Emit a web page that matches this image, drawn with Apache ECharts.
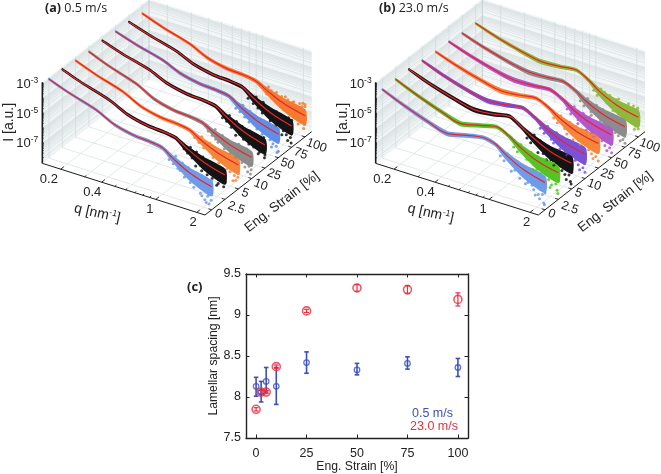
<!DOCTYPE html>
<html><head><meta charset="utf-8">
<style>html,body{margin:0;padding:0;background:#fff}#c{width:661px;height:474px}</style>
<script src="https://cdn.jsdelivr.net/npm/echarts@6/dist/echarts.min.js"></script>
</head><body><div id="c"></div>
<script>
// ---------- data ----------
const qValues = [0.1465,0.208,0.326,0.441,0.614,0.807,1.0,1.18,1.6,2.3];
const strainLabels = ['0','2.5','5','10','25','50','75','100'];
const qTickLabels = [0.2,0.4,1,2];
const qGridValues = [0.2,0.3,0.4,0.5,0.6,0.7,0.8,0.9,1,2];
const decadeLabels = [-3,-5,-7];

const curvesA = [
 [-3.0,-3.52,-4.07,-4.66,-4.98,-5.06,-5.20,-5.66,-6.33,-6.78],
 [-3.05,-3.56,-4.11,-4.69,-5.01,-5.09,-5.23,-5.65,-6.27,-6.69],
 [-3.16,-3.68,-4.24,-4.84,-5.16,-5.24,-5.38,-5.76,-6.32,-6.71],
 [-3.26,-3.82,-4.41,-5.05,-5.39,-5.48,-5.62,-5.98,-6.53,-6.90],
 [-3.22,-3.69,-4.18,-4.71,-5.0,-5.07,-5.20,-5.66,-6.32,-6.77],
 [-3.30,-3.75,-4.23,-4.75,-5.03,-5.10,-5.23,-5.66,-6.30,-6.73],
 [-3.36,-3.82,-4.31,-4.83,-5.12,-5.19,-5.32,-5.78,-6.44,-6.89],
 [-3.49,-3.99,-4.52,-5.09,-5.40,-5.47,-5.61,-5.97,-6.53,-6.90]];
const curvesB = [
 [-3.70,-4.29,-4.94,-5.28,-4.98,-4.78,-4.97,-5.44,-6.08,-6.50],
 [-3.72,-4.31,-4.96,-5.31,-5.01,-4.76,-5.12,-5.58,-6.18,-6.53],
 [-3.75,-4.28,-4.80,-5.07,-4.96,-4.76,-5.26,-5.67,-6.26,-6.60],
 [-3.87,-4.40,-4.93,-5.16,-5.04,-4.89,-5.33,-5.77,-6.33,-6.68],
 [-3.96,-4.45,-4.95,-5.20,-5.09,-4.95,-5.33,-5.77,-6.33,-6.66],
 [-3.99,-4.47,-4.96,-5.18,-5.14,-5.05,-5.43,-5.89,-6.44,-6.80],
 [-4.13,-4.60,-5.08,-5.31,-5.29,-5.21,-5.58,-6.04,-6.60,-6.94],
 [-4.16,-4.63,-5.10,-5.33,-5.26,-5.15,-5.58,-6.07,-6.66,-7.01]];
const coloursA = ['#6f9ce8','#141414','#f5863a','#8c8c8c','#141414','#5f8fe6','#141414','#f57a30'];
const coloursB = ['#6f9ce8','#55c524','#141414','#7a52d8','#f5863a','#b058cc','#8c8c8c','#8fb83c'];
const spreadUpA = [.03,.04,.05,.06,.07,.07,.08,.14,.30,.36];
const spreadDownA = [.03,.04,.05,.06,.07,.08,.10,.22,.48,.60];
const spreadUpB = [.03,.07,.09,.11,.09,.08,.08,.16,.32,.40];
const spreadDownB = [.03,.07,.10,.13,.11,.09,.11,.26,.52,.66];

const scatterA = [
 [[1.35,-6.35],[1.45,-6.7],[1.6,-6.95],[1.7,-7.2],[1.8,-6.35],[1.9,-7.45],[2.0,-7.1],[2.05,-7.8],[2.1,-6.4],[2.15,-7.5],[2.2,-8.0],[2.25,-7.3],[2.28,-7.7],[1.95,-7.6],[2.1,-7.95],
  [1.12,-5.85],[1.2,-6.05],[1.3,-6.25],[1.25,-5.5],[1.4,-5.8],[1.5,-6.6],[1.55,-6.0],[1.7,-6.85],[1.75,-6.15],[1.85,-6.95],[1.95,-6.25],[2.1,-7.05],[2.3,-6.35],[2.2,-7.35]],
 [[1.4,-6.7],[1.55,-6.9],[1.7,-7.05],[1.85,-7.2],[1.95,-6.4],[2.05,-7.4],[2.12,-7.1],[2.2,-6.3],[2.25,-7.5],[2.3,-7.2],[2.0,-7.55],[2.27,-6.5],
  [1.15,-5.8],[1.22,-6.0],[1.32,-6.22],[1.28,-5.55],[1.42,-5.75],[1.52,-6.55],[1.58,-5.95],[1.72,-6.8],[1.78,-6.1],[1.9,-6.95],[2.15,-6.95],[2.24,-7.0]],
 [[1.3,-6.0],[1.5,-6.75],[1.65,-7.0],[1.8,-6.2],[1.9,-7.2],[2.0,-7.35],[2.08,-6.3],[2.15,-7.5],[2.2,-7.8],[2.25,-6.35],[2.3,-7.3],[2.1,-7.9],[2.28,-7.55],
  [1.1,-5.8],[1.18,-6.05],[1.28,-6.3],[1.24,-5.6],[1.42,-5.85],[1.55,-6.05],[1.6,-6.7],[1.72,-6.85],[1.85,-7.0],[1.98,-6.25],[2.12,-7.1],[2.22,-7.15]],
 [[1.3,-6.6],[1.45,-6.9],[1.6,-7.1],[1.75,-7.25],[1.85,-6.3],[1.95,-7.45],[2.05,-7.7],[2.12,-6.45],[2.2,-7.55],[2.25,-8.05],[2.3,-7.4],[2.15,-7.95],[2.28,-7.75],
  [1.1,-6.05],[1.18,-6.25],[1.25,-6.45],[1.24,-5.8],[1.4,-6.05],[1.52,-6.2],[1.55,-6.85],[1.7,-7.0],[1.82,-7.1],[2.0,-6.5],[2.1,-7.25],[2.22,-7.25]],
 [[1.4,-6.75],[1.6,-6.85],[1.75,-7.05],[1.9,-7.15],[2.0,-6.35],[2.1,-7.35],[2.2,-7.2],[2.25,-6.3],[2.3,-7.45],[2.05,-7.5],[2.28,-7.65],
  [1.12,-5.85],[1.2,-6.0],[1.3,-6.3],[1.26,-5.55],[1.42,-5.8],[1.5,-6.6],[1.56,-6.0],[1.7,-6.8],[1.78,-6.15],[1.95,-7.0],[2.15,-6.95],[2.24,-7.05]],
 [[1.4,-6.55],[1.6,-6.85],[1.75,-7.1],[1.9,-6.2],[2.0,-7.3],[2.1,-7.5],[2.15,-6.3],[2.22,-7.6],[2.28,-7.3],[2.3,-7.9],[2.05,-7.75],[2.25,-8.0],
  [1.12,-5.9],[1.2,-6.05],[1.3,-6.3],[1.26,-5.55],[1.42,-5.8],[1.55,-6.0],[1.62,-6.7],[1.78,-6.15],[1.85,-6.9],[1.98,-7.05],[2.12,-7.1],[2.3,-6.4]],
 [[1.4,-6.65],[1.6,-7.0],[1.75,-7.2],[1.9,-6.35],[2.0,-7.4],[2.1,-7.6],[2.18,-6.4],[2.25,-7.7],[2.3,-7.35],[2.15,-7.95],[2.28,-8.05],[1.95,-7.7],
  [1.1,-5.95],[1.2,-6.2],[1.3,-6.4],[1.26,-5.7],[1.42,-5.9],[1.55,-6.15],[1.62,-6.85],[1.78,-6.25],[1.85,-7.0],[2.05,-7.1],[2.2,-7.2],[2.3,-6.5]],
 [[1.3,-5.95],[1.5,-6.75],[1.65,-6.05],[1.8,-7.0],[1.9,-6.2],[2.0,-7.2],[2.1,-6.2],[2.15,-7.35],[2.22,-6.1],[2.28,-7.5],[2.3,-6.3],[2.25,-7.8],[2.05,-7.6],
  [1.1,-5.8],[1.2,-6.25],[1.24,-5.75],[1.32,-6.45],[1.42,-5.95],[1.55,-6.1],[1.6,-6.95],[1.72,-6.2],[1.85,-6.3],[1.95,-7.05],[2.18,-6.35],[2.3,-6.15]]];
const scatterB = [
 [[1.3,-6.45],[1.5,-6.75],[1.65,-7.0],[1.8,-6.2],[1.9,-7.2],[2.0,-6.0],[2.05,-7.45],[2.1,-7.7],[2.15,-6.1],[2.2,-7.35],[2.25,-7.9],[2.3,-7.2],[1.95,-7.55],[2.28,-8.0],
  [1.08,-5.65],[1.15,-5.9],[1.22,-5.35],[1.3,-5.6],[1.38,-6.3],[1.45,-5.7],[1.6,-5.85],[1.72,-6.85],[1.85,-6.95],[1.98,-6.05],[2.12,-7.05],[2.24,-6.95]],
 [[1.3,-5.9],[1.5,-6.85],[1.7,-7.0],[1.85,-5.95],[1.95,-7.2],[2.05,-7.5],[2.12,-6.0],[2.2,-7.35],[2.25,-7.75],[2.3,-7.1],[2.28,-7.95],[2.0,-7.7],
  [1.08,-5.75],[1.15,-6.0],[1.22,-5.45],[1.35,-6.3],[1.45,-5.75],[1.6,-6.75],[1.62,-5.9],[1.78,-6.0],[1.9,-6.9],[2.1,-7.0],[2.25,-6.2]],
 [[1.3,-6.6],[1.5,-6.9],[1.7,-7.1],[1.85,-6.1],[1.95,-7.3],[2.05,-7.5],[2.15,-6.2],[2.2,-7.45],[2.25,-7.85],[2.3,-7.2],[2.1,-7.8],[2.28,-8.0],
  [1.08,-5.85],[1.15,-6.1],[1.22,-5.5],[1.35,-5.75],[1.42,-6.55],[1.55,-5.95],[1.62,-6.8],[1.78,-6.05],[1.9,-7.0],[2.1,-7.05],[2.25,-6.25]],
 [[1.35,-6.6],[1.5,-6.9],[1.7,-7.15],[1.85,-6.15],[1.95,-7.3],[2.05,-7.55],[2.15,-6.25],[2.22,-7.65],[2.28,-7.35],[2.3,-7.9],[2.1,-7.85],
  [1.08,-5.9],[1.15,-6.15],[1.22,-5.6],[1.3,-6.4],[1.42,-5.85],[1.58,-6.0],[1.65,-6.9],[1.78,-6.1],[1.9,-7.0],[2.1,-7.1],[2.25,-6.3]],
 [[1.35,-6.7],[1.5,-6.95],[1.7,-7.15],[1.85,-6.15],[1.95,-7.3],[2.05,-7.5],[2.12,-6.2],[2.2,-7.6],[2.28,-7.3],[2.3,-7.85],[2.1,-7.8],
  [1.08,-5.9],[1.15,-6.15],[1.22,-5.6],[1.3,-6.4],[1.42,-5.85],[1.58,-6.0],[1.65,-6.9],[1.78,-6.1],[1.9,-7.0],[2.1,-7.1],[2.25,-6.3]],
 [[1.3,-6.75],[1.5,-7.0],[1.7,-7.25],[1.85,-6.3],[1.95,-7.4],[2.05,-7.65],[2.15,-6.35],[2.22,-7.7],[2.28,-7.45],[2.3,-8.0],[2.12,-7.95],
  [1.08,-6.0],[1.15,-6.25],[1.22,-5.7],[1.3,-6.5],[1.42,-5.95],[1.58,-6.1],[1.65,-7.05],[1.78,-6.25],[1.9,-7.15],[2.1,-7.25],[2.25,-6.45]],
 [[1.3,-6.9],[1.5,-7.15],[1.7,-7.35],[1.85,-6.4],[1.95,-7.55],[2.05,-7.7],[2.15,-6.5],[2.22,-7.85],[2.28,-7.6],[2.3,-8.05],[2.12,-8.0],
  [1.08,-6.15],[1.15,-6.4],[1.22,-5.85],[1.3,-6.65],[1.42,-6.1],[1.58,-6.25],[1.65,-7.2],[1.78,-6.4],[1.9,-7.3],[2.1,-7.4],[2.25,-6.6]],
 [[1.3,-6.05],[1.5,-7.1],[1.65,-6.2],[1.8,-7.3],[1.95,-6.3],[2.05,-7.5],[2.12,-6.35],[2.2,-7.65],[2.28,-6.4],[2.3,-7.8],[2.15,-7.9],
  [1.08,-6.15],[1.15,-6.4],[1.22,-5.9],[1.35,-6.7],[1.42,-6.15],[1.58,-6.3],[1.65,-7.2],[1.78,-6.45],[1.9,-7.35],[2.1,-7.45],[2.25,-6.5]]];

const strainC = [0,2.5,5,10,25,50,75,100];
const spacingSlow = [8.13,8.06,8.19,8.13,8.42,8.33,8.41,8.36];
const slowLow = [8.01,7.94,8.06,7.91,8.29,8.27,8.34,8.25];
const slowHigh = [8.24,8.19,8.36,8.36,8.55,8.41,8.49,8.47];
const spacingFast = [7.85,8.06,8.06,8.37,9.05,9.33,9.31,9.19];
const fastLow = [7.83,8.04,8.04,8.35,9.03,9.29,9.26,9.11];
const fastHigh = [7.87,8.08,8.08,8.39,9.07,9.37,9.36,9.27];

// ---------- layout of the oblique 3-D boxes ----------
const FONT = '"Liberation Sans",Arial,sans-serif';
const INK = '#222';
const Q0 = 0.1465, QSPAN = 1.196, LOG0 = -8.33, LOGTOP = -2.86;
const uOf = q => Math.log10(q / Q0) / QSPAN;
const sOf = i => (i + 0.5) / 8;
const projector = off => (u, s, l) => [127 + off + 488 * u + 320 * s, 490 + 155 * u - 250 * s - 44.5 * (l - LOG0)];

const logLines = [];
for (let d = -8; d <= -3; d++) for (let m = 1; m <= 9; m++) {
  const v = d + Math.log10(m);
  if (v > LOG0 && v < LOGTOP) logLines.push(v);
}

function panelSeries(ax, off, curves, colours, upS, downS, clouds) {
  const P = projector(off), out = [];
  const base = {coordinateSystem:'cartesian2d', xAxisIndex:ax, yAxisIndex:ax, silent:true};
  const layer = (fn, extra) => Object.assign({type:'custom', data:[[0,0]], clip:false, renderItem:(p, api) => ({type:'group', children:fn(api)})}, base, extra||{});
  const seg = (api, a, b, stroke, w) => { const A = api.coord(a), B = api.coord(b);
    return {type:'line', shape:{x1:A[0],y1:A[1],x2:B[0],y2:B[1]}, style:{stroke, lineWidth:w}}; };
  const poly = (api, pts, fill, stroke, w, smooth) => ({type:'polygon', shape:{points:pts.map(p => api.coord(p)), smooth:smooth||0}, style:{fill, stroke:stroke||null, lineWidth:w||0}});

  // walls and grid
  out.push(layer(api => {
    const c = [];
    c.push(poly(api,[P(0,0,LOG0),P(0,1,LOG0),P(0,1,LOGTOP),P(0,0,LOGTOP)],'#eff3f3'));
    c.push(poly(api,[P(0,1,LOG0),P(1,1,LOG0),P(1,1,LOGTOP),P(0,1,LOGTOP)],'#f3f6f6'));
    const g = '#d3dcdd';
    logLines.forEach(v => {
      c.push(seg(api,P(0,0,v),P(0,1,v),g,0.6));
      c.push(seg(api,P(0,1,v),P(1,1,v),g,0.6));
    });
    qGridValues.forEach(q => { const u = uOf(q);
      c.push(seg(api,P(u,1,LOG0),P(u,1,LOGTOP),g,0.8));
      if (qTickLabels.includes(q)||q===0.3||q===0.6) c.push(seg(api,P(u,0,LOG0),P(u,1,LOG0),'#dbe3e6',0.8));
    });
    strainLabels.forEach((_, i) => { const s = sOf(i);
      c.push(seg(api,P(0,s,LOG0),P(1,s,LOG0),'#dbe3e6',0.8));
      c.push(seg(api,P(0,s,LOG0),P(0,s,LOGTOP),g,0.8));
    });
    c.push(seg(api,P(0,1,LOG0),P(0,1,LOGTOP),'#b9c4c6',0.8));
    return c;
  }));

  // curves: back to front
  for (let i = 7; i >= 0; i--) {
    const s = sOf(i), col = colours[i], v = curves[i];
    out.push(layer(api => {
      const top = qValues.map((q,j) => P(uOf(q),s,v[j]+upS[j]));
      const bot = qValues.map((q,j) => P(uOf(q),s,v[j]-downS[j])).reverse();
      return [poly(api, top.concat(bot), col, col, 1.6, 0.2)];
    }));
    out.push(Object.assign({type:'scatter', symbol:'circle', symbolSize:3, itemStyle:{color:col, opacity:0.85},
      data:clouds[i].map(p => P(uOf(p[0]),s,p[1]))}, base));
    out.push(Object.assign({type:'line', showSymbol:false, smooth:0.4, lineStyle:{color:'#e8242c', width:1.2},
      data:qValues.map((q,j) => P(uOf(q),s,v[j]))}, base));
  }

  // axes and text
  out.push(layer(api => {
    const c = [], k = '#1c1c1c';
    c.push(seg(api,P(0,0,LOG0),P(1,0,LOG0),k,1));
    c.push(seg(api,P(1,0,LOG0),P(1,1,LOG0),k,1));
    c.push(seg(api,P(0,0,LOG0),P(0,0,LOGTOP),k,1.6));
    logLines.forEach(v => c.push(seg(api,P(0,0,v),P(0,0.012,v),k,0.8)));
    [.2,.3,.4,.5,.6,.7,.8,.9,1,2].forEach(q => { const u = uOf(q), major = qTickLabels.includes(q);
      c.push(seg(api,P(u,0,LOG0),P(u,major?0.03:0.015,LOG0),k,0.9)); });
    strainLabels.forEach((t,i) => { const s = sOf(i);
      c.push(seg(api,P(1,s,LOG0),P(0.98,s,LOG0),k,0.9));
      const a = api.coord(P(1,s,LOG0));
      c.push({type:'text', x:a[0]+(4.5+2.3*t.length), y:a[1]+(2+2.2*t.length),
        rotation:-0.35, style:{text:t, font:'12.5px '+FONT, fill:INK, align:'center', verticalAlign:'middle'}});
    });
    qTickLabels.forEach(q => { const u = uOf(q), a = api.coord(P(u,0,LOG0));
      c.push({type:'text', x:a[0]-13+10*u, y:a[1]+10.5, style:{text:String(q), font:'13px '+FONT, fill:INK, align:'center', verticalAlign:'middle'}});
    });
    decadeLabels.forEach(d => { const a = api.coord(P(0,0,d));
      c.push({type:'text', x:a[0]-4, y:a[1], style:{text:'10{s|'+d+'}', font:'13px '+FONT, fill:INK, align:'right', verticalAlign:'middle',
        rich:{s:{fontSize:8.5, fontFamily:FONT, fill:INK, padding:[0,0,7,0]}}}});
    });
    const base0 = api.coord(P(0,0,LOG0)), br = api.coord(P(1,0,LOG0));
    c.push({type:'text', x:base0[0]-33, y:base0[1]-41, rotation:Math.PI/2,
      style:{text:'I [a.u.]', font:'14px '+FONT, fill:INK, align:'center', verticalAlign:'middle'}});
    c.push({type:'text', x:base0[0]+55, y:base0[1]+50, rotation:-0.22,
      style:{text:'q [nm{s|-1}]', font:'14px '+FONT, fill:INK, align:'center', verticalAlign:'middle',
        rich:{s:{fontSize:9, fontFamily:FONT, fill:INK, padding:[0,0,7,0]}}}});
    c.push({type:'text', x:br[0]+77, y:br[1]-13, rotation:0.66,
      style:{text:'Eng. Strain [%]', font:'13.5px '+FONT, fill:INK, align:'center', verticalAlign:'middle'}});
    return c;
  }, {z:5}));
  return out;
}

// panel (c) error bars
function errorBars(ax, xs, lows, highs, colour, width, cap) {
  return {type:'custom', xAxisIndex:ax, yAxisIndex:ax, silent:true, clip:false,
    data:xs.map((x,i) => [x,lows[i],highs[i]]), encode:{x:0,y:[1,2]},
    renderItem:(p, api) => {
      const a = api.coord([api.value(0),api.value(1)]), b = api.coord([api.value(0),api.value(2)]);
      const st = {stroke:colour, lineWidth:width};
      return {type:'group', children:[
        {type:'line', shape:{x1:a[0],y1:a[1],x2:b[0],y2:b[1]}, style:st},
        {type:'line', shape:{x1:a[0]-cap,y1:a[1],x2:a[0]+cap,y2:a[1]}, style:st},
        {type:'line', shape:{x1:b[0]-cap,y1:b[1],x2:b[0]+cap,y2:b[1]}, style:st}]};
    }};
}
const hidden = (grid, max, inv) => ({gridIndex:grid, type:'value', min:0, max, inverse:!!inv, show:false});
const BLUE = '#3d50bd', RED = '#e8303e';
const xTicks = [0,25,50,75,100];
const lab = {fontFamily:FONT, fontSize:12.5, color:'#222'};
const frame = {show:true, onZero:false, lineStyle:{color:'#222',width:1.4}};

const option = {
  animation:false, backgroundColor:'#fff',
  grid:[
    {left:0, top:0, width:330, height:240},
    {left:330, top:0, width:331, height:240},
    {left:246, top:274, width:222, height:169.5}
  ],
  xAxis:[hidden(0,990), hidden(1,993),
    {gridIndex:2, type:'value', min:-5, max:105, position:'bottom',
     axisLine:frame, splitLine:{show:false},
     axisTick:{inside:true,length:3.5,customValues:xTicks,lineStyle:{color:'#222'}},
     axisLabel:Object.assign({customValues:xTicks,margin:9},lab),
     name:'Eng. Strain [%]', nameLocation:'middle', nameGap:23, nameTextStyle:{fontFamily:FONT,fontSize:12.2,color:'#222'}},
    {gridIndex:2, type:'value', min:-5, max:105, position:'top',
     axisLine:frame, splitLine:{show:false},
     axisTick:{inside:true,length:3.5,customValues:xTicks,lineStyle:{color:'#222'}}, axisLabel:{show:false}}
  ],
  yAxis:[hidden(0,720,true), hidden(1,720,true),
    {gridIndex:2, type:'value', min:7.5, max:9.5, interval:0.5, position:'left',
     axisLine:frame, splitLine:{show:false},
     axisTick:{inside:true,length:3.5,lineStyle:{color:'#222'}},
     axisLabel:Object.assign({margin:5,formatter:v => String(v)},lab),
     name:'Lamellar spacing [nm]', nameLocation:'middle', nameGap:23, nameTextStyle:{fontFamily:FONT,fontSize:12.2,color:'#222'}},
    {gridIndex:2, type:'value', min:7.5, max:9.5, interval:0.5, position:'right',
     axisLine:frame, splitLine:{show:false},
     axisTick:{inside:true,length:3.5,lineStyle:{color:'#222'}}, axisLabel:{show:false}}
  ],
  series:[].concat(
    panelSeries(0,0,curvesA,coloursA,spreadUpA,spreadDownA,scatterA),
    panelSeries(1,10,curvesB,coloursB,spreadUpB,spreadDownB,scatterB),
    [
      errorBars(2,strainC,slowLow,slowHigh,BLUE,1.6,2.3),
      {type:'scatter', xAxisIndex:2, yAxisIndex:2, symbol:'circle', symbolSize:5.5, silent:true,
       itemStyle:{color:'rgba(0,0,0,0)',borderColor:BLUE,borderWidth:1.3},
       data:strainC.map((x,i)=>[x,spacingSlow[i]])},
      errorBars(2,strainC,fastLow,fastHigh,RED,1.2,2.5),
      {type:'scatter', xAxisIndex:2, yAxisIndex:2, symbol:'circle', symbolSize:8, silent:true,
       itemStyle:{color:'rgba(0,0,0,0)',borderColor:RED,borderWidth:1.6},
       data:strainC.map((x,i)=>[x,spacingFast[i]])}
    ]),
  graphic:[
    {type:'text', left:45, top:2, style:{text:'{b|(a)} 0.5 m/s', font:'12.5px "Open Sans"', fill:'#222', rich:{b:{fontWeight:'bold',fontFamily:'Open Sans',fontSize:12.5,fill:'#222'}}}},
    {type:'text', left:379, top:2, style:{text:'{b|(b)} 23.0 m/s', font:'12.5px "Open Sans"', fill:'#222', rich:{b:{fontWeight:'bold',fontFamily:'Open Sans',fontSize:12.5,fill:'#222'}}}},
    {type:'text', left:187, top:281, style:{text:'(c)', font:'bold 13px "Open Sans"', fill:'#222'}},
    {type:'text', left:412, top:407, style:{text:'0.5 m/s', font:'12.5px '+FONT, fill:BLUE}},
    {type:'text', left:410, top:420, style:{text:'23.0 m/s', font:'12.5px '+FONT, fill:RED}}
  ]
};
echarts.init(document.getElementById('c'),null,{renderer:'canvas'}).setOption(option);
</script></body></html>
